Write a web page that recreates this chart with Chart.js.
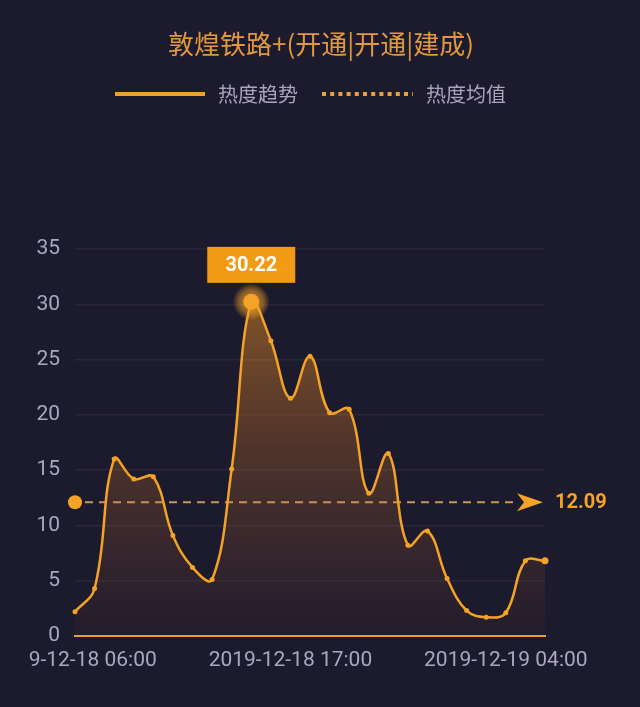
<!DOCTYPE html>
<html><head><meta charset="utf-8">
<script src="https://cdn.jsdelivr.net/npm/chart.js@4/dist/chart.umd.min.js"></script>
<style>
html,body{margin:0;padding:0;background:#1c1a2d;width:640px;height:707px;overflow:hidden;}
#wrap{position:absolute;left:28px;top:0;width:612px;height:707px;}
</style></head><body>
<div id="wrap"><canvas id="c" width="612" height="707"></canvas></div>
<script>
const chartTitle = '敦煌铁路+(开通|开通|建成)';
const seriesNames = ['热度趋势', '热度均值'];
const categories = [
  '2019-12-18 06:00','2019-12-18 07:00','2019-12-18 08:00','2019-12-18 09:00','2019-12-18 10:00',
  '2019-12-18 11:00','2019-12-18 12:00','2019-12-18 13:00','2019-12-18 14:00','2019-12-18 15:00',
  '2019-12-18 16:00','2019-12-18 17:00','2019-12-18 18:00','2019-12-18 19:00','2019-12-18 20:00',
  '2019-12-18 21:00','2019-12-18 22:00','2019-12-18 23:00','2019-12-19 00:00','2019-12-19 01:00',
  '2019-12-19 02:00','2019-12-19 03:00','2019-12-19 04:00','2019-12-19 05:00','2019-12-19 06:00'
];
const heatValues = [2.2,4.3,16.0,14.2,14.4,9.1,6.2,5.1,15.1,30.22,26.7,21.5,25.3,20.2,20.5,12.9,16.5,8.2,9.5,5.2,2.3,1.7,2.1,6.8,6.8];
const averageValue = 12.09;
const yTickValues = [0,5,10,15,20,25,30,35];
const xTickLabels = ['2019-12-18 06:00','2019-12-18 17:00','2019-12-19 04:00'];

const ORANGE = '#f4a326';
const OFF = 28; // canvas left offset within page
const peakIndex = heatValues.indexOf(Math.max(...heatValues));

const decorPlugin = {
  id: 'decor',
  beforeDatasetsDraw(chart) {
    const ctx = chart.ctx, x = chart.scales.x, y = chart.scales.y;
    const ay = y.getPixelForValue(averageValue);
    const x0 = x.getPixelForValue(0);
    const xEnd = x.getPixelForValue(categories.length - 1);
    ctx.save();
    ctx.strokeStyle = 'rgba(232,172,100,0.85)';
    ctx.lineWidth = 2;
    ctx.setLineDash([8, 6]);
    ctx.beginPath();
    ctx.moveTo(x0 + 10, ay);
    ctx.lineTo(xEnd - 28, ay);
    ctx.stroke();
    ctx.setLineDash([]);
    ctx.fillStyle = ORANGE;
    ctx.beginPath();
    ctx.arc(x0, ay, 7, 0, Math.PI * 2);
    ctx.fill();
    ctx.beginPath();
    ctx.moveTo(xEnd - 2, ay);
    ctx.lineTo(xEnd - 28, ay - 9);
    ctx.lineTo(xEnd - 21, ay);
    ctx.lineTo(xEnd - 28, ay + 9);
    ctx.closePath();
    ctx.fill();
    ctx.font = 'bold 20px Roboto';
    ctx.textAlign = 'left';
    ctx.textBaseline = 'middle';
    ctx.fillText(averageValue.toFixed(2), xEnd + 10, ay + 1);
    ctx.restore();
  },
  afterDatasetsDraw(chart) {
    const ctx = chart.ctx, x = chart.scales.x, y = chart.scales.y;
    const px = x.getPixelForValue(peakIndex), py = y.getPixelForValue(heatValues[peakIndex]);
    ctx.save();
    const g = ctx.createRadialGradient(px, py, 4, px, py, 18);
    g.addColorStop(0, 'rgba(245,163,38,0.75)');
    g.addColorStop(0.6, 'rgba(245,163,38,0.45)');
    g.addColorStop(1, 'rgba(245,163,38,0.05)');
    ctx.fillStyle = g;
    ctx.beginPath(); ctx.arc(px, py, 18, 0, Math.PI * 2); ctx.fill();
    ctx.fillStyle = ORANGE;
    ctx.beginPath(); ctx.arc(px, py, 8, 0, Math.PI * 2); ctx.fill();
    const bw = 88, bh = 36;
    ctx.fillStyle = '#f29a14';
    ctx.fillRect(px - bw / 2, py - 19 - bh, bw, bh);
    ctx.fillStyle = '#ffffff';
    ctx.font = 'bold 20px Roboto';
    ctx.textAlign = 'center';
    ctx.textBaseline = 'middle';
    ctx.fillText(heatValues[peakIndex].toFixed(2), px, py - 19 - bh / 2 + 1);
    ctx.restore();
  },
  afterDraw(chart) {
    const ctx = chart.ctx;
    ctx.save();
    ctx.textBaseline = 'middle';
    ctx.textAlign = 'center';
    ctx.fillStyle = '#e3983f';
    ctx.font = '26px "Noto Sans CJK SC"';
    ctx.fillText(chartTitle, 321 - OFF, 44);
    ctx.strokeStyle = '#f0a030';
    ctx.lineWidth = 4;
    ctx.beginPath(); ctx.moveTo(115 - OFF, 94); ctx.lineTo(205 - OFF, 94); ctx.stroke();
    ctx.setLineDash([4, 4.2]);
    ctx.strokeStyle = '#e8a040';
    ctx.beginPath(); ctx.moveTo(322 - OFF, 94); ctx.lineTo(413 - OFF, 94); ctx.stroke();
    ctx.setLineDash([]);
    ctx.fillStyle = '#a9a5bf';
    ctx.font = '20px "Noto Sans CJK SC"';
    ctx.textAlign = 'left';
    ctx.fillText(seriesNames[0], 218 - OFF, 94);
    ctx.fillText(seriesNames[1], 426 - OFF, 94);
    ctx.restore();
  }
};

new Chart(document.getElementById('c'), {
  type: 'line',
  data: {
    labels: categories,
    datasets: [{
      label: seriesNames[0],
      data: heatValues,
      borderColor: ORANGE,
      borderWidth: 2.5,
      tension: 0.4,
      fill: 'origin',
      backgroundColor(ctx) {
        const ca = ctx.chart.chartArea;
        if (!ca) return 'rgba(245,160,30,0.3)';
        const g = ctx.chart.ctx.createLinearGradient(0, ca.top, 0, ca.bottom);
        g.addColorStop(0, 'rgba(245,155,35,0.55)');
        g.addColorStop(0.5, 'rgba(220,125,40,0.28)');
        g.addColorStop(1, 'rgba(200,100,50,0.04)');
        return g;
      },
      pointRadius(ctx) {
        if (ctx.dataIndex === peakIndex) return 0;
        return ctx.dataIndex === heatValues.length - 1 ? 3.5 : 2.5;
      },
      pointBackgroundColor: ORANGE,
      pointBorderWidth: 0
    }]
  },
  options: {
    responsive: false,
    animation: false,
    devicePixelRatio: 1,
    layout: { padding: { top: 249, right: 95, bottom: 0, left: 0 } },
    plugins: { legend: { display: false }, title: { display: false }, tooltip: { enabled: false } },
    scales: {
      x: {
        offset: false,
        grid: { display: false, drawTicks: false },
        border: { display: true, color: '#e8a03a', width: 2 },
        ticks: {
          autoSkip: false, maxRotation: 0, minRotation: 0, padding: 12,
          color: '#aaa8c0', font: { family: 'Roboto', size: 21 },
          callback(val) { const l = this.getLabelForValue(val); return xTickLabels.includes(l) ? l : ''; }
        },
        afterFit(s) { s.height = 71; s.paddingLeft = 0; s.paddingRight = 0; }
      },
      y: {
        min: 0, max: 35,
        afterBuildTicks(s) { s.ticks = yTickValues.map(v => ({ value: v })); },
        grid: { color(c) { return c.tick && c.tick.value === 0 ? 'rgba(0,0,0,0)' : 'rgba(255,255,255,0.055)'; }, lineWidth: 1.5, drawTicks: false },
        border: { display: false },
        ticks: { padding: 15, color: '#aaa8c0', font: { family: 'Roboto', size: 21 } },
        afterFit(s) { s.width = 75 - OFF; }
      }
    }
  },
  plugins: [decorPlugin]
});
</script>
</body></html>
